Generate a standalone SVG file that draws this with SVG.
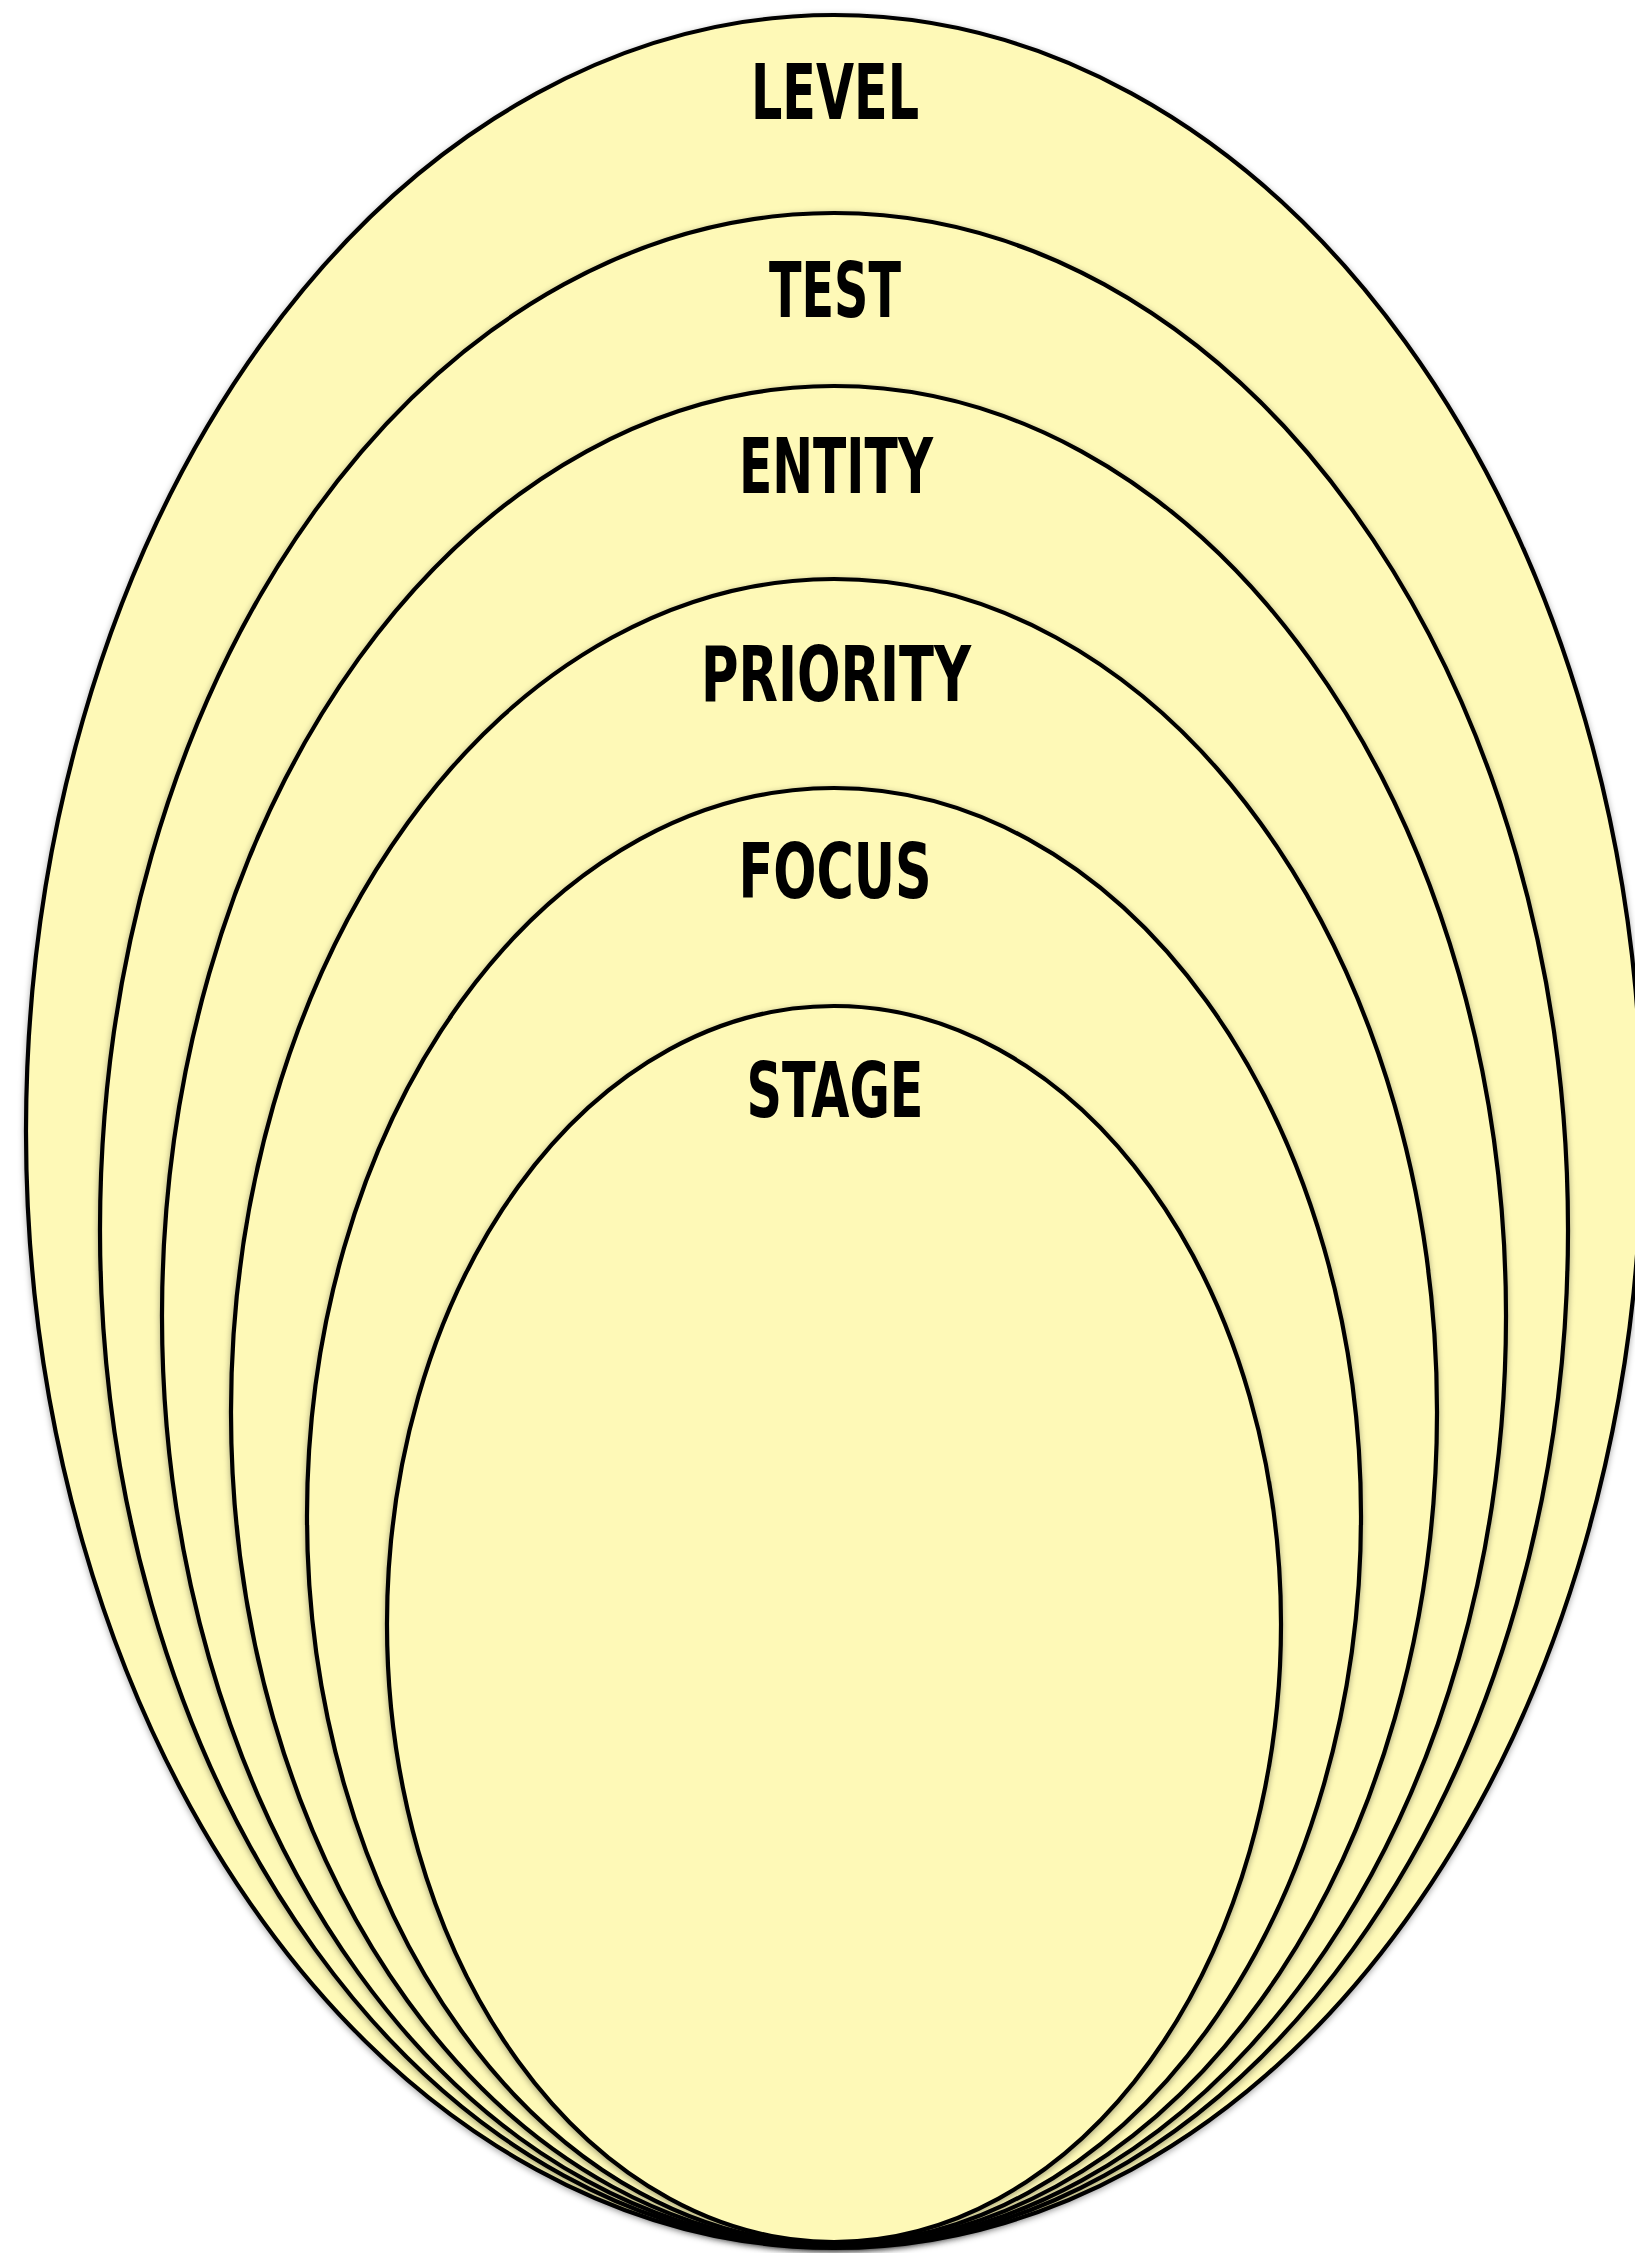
<svg xmlns="http://www.w3.org/2000/svg" width="1635" height="2253" viewBox="0 0 1635 2253">
  <style>
    .ring { fill: #FEF9B7; stroke: #000000; stroke-width: 4.2; filter: url(#shadow); }
    .label { font-family: "Liberation Sans Narrow", "DejaVu Sans Condensed", "Liberation Sans", sans-serif; font-weight: bold; font-size: 76px; fill: #000000; text-anchor: middle; }
  </style>
  <defs>
    <filter id="shadow" x="-5%" y="-5%" width="110%" height="110%">
      <feDropShadow dx="0" dy="2" stdDeviation="3" flood-color="#000000" flood-opacity="0.35"/>
    </filter>
  </defs>
  <rect x="0" y="0" width="1635" height="2253" fill="#FFFFFF"/>
  <g id="level">
    <ellipse class="ring" cx="834" cy="1131.5" rx="808" ry="1116.5"/>
    <text class="label" x="835" y="119" textLength="168" lengthAdjust="spacingAndGlyphs">LEVEL</text>
  </g>
  <g id="test">
    <ellipse class="ring" cx="834" cy="1230" rx="734" ry="1017"/>
    <text class="label" x="835" y="317" textLength="132" lengthAdjust="spacingAndGlyphs">TEST</text>
  </g>
  <g id="entity">
    <ellipse class="ring" cx="834" cy="1316" rx="672" ry="930"/>
    <text class="label" x="836" y="493" textLength="194" lengthAdjust="spacingAndGlyphs">ENTITY</text>
  </g>
  <g id="priority">
    <ellipse class="ring" cx="834" cy="1412" rx="603" ry="833"/>
    <text class="label" x="836" y="701" textLength="270" lengthAdjust="spacingAndGlyphs">PRIORITY</text>
  </g>
  <g id="focus">
    <ellipse class="ring" cx="834" cy="1516" rx="527" ry="728"/>
    <text class="label" x="835" y="898" textLength="193" lengthAdjust="spacingAndGlyphs">FOCUS</text>
  </g>
  <g id="stage">
    <ellipse class="ring" cx="834" cy="1624" rx="447" ry="618"/>
    <text class="label" x="835" y="1117" textLength="177" lengthAdjust="spacingAndGlyphs">STAGE</text>
  </g>
  <g id="connectors"/>
</svg>
